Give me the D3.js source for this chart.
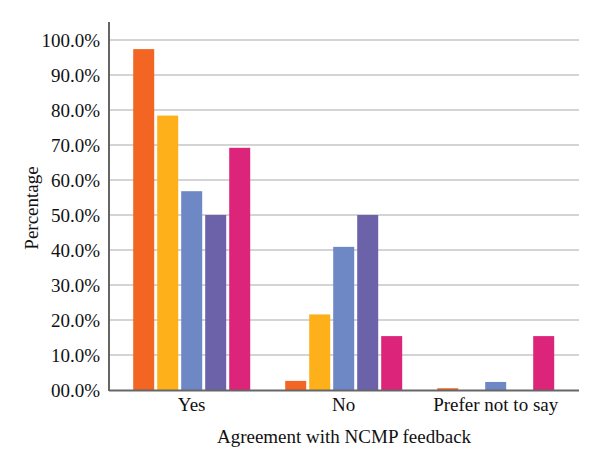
<!DOCTYPE html>
<html><head><meta charset="utf-8">
<script src="https://cdn.jsdelivr.net/npm/d3@7"></script>
<style>body{margin:0;background:#fff}svg{display:block}</style>
</head><body><div id="chart"></div>
<script>
const categories = ["Yes", "No", "Prefer not to say"];
const seriesNames = ["S1", "S2", "S3", "S4", "S5"];
const seriesColors = ["#F26522", "#FDB019", "#6E88C5", "#6C62AA", "#DC247A"];
const valuesS1 = [97.4, 2.6, 0.5];
const valuesS2 = [78.4, 21.6, 0];
const valuesS3 = [56.8, 40.9, 2.3];
const valuesS4 = [50.0, 50.0, 0];
const valuesS5 = [69.2, 15.4, 15.4];
const yTicks = [0, 10, 20, 30, 40, 50, 60, 70, 80, 90, 100];
const yTickLabels = ["00.0%", "10.0%", "20.0%", "30.0%", "40.0%", "50.0%", "60.0%", "70.0%", "80.0%", "90.0%", "100.0%"];
const xTitle = "Agreement with NCMP feedback";
const yTitle = "Percentage";

(function () {
const series = [valuesS1, valuesS2, valuesS3, valuesS4, valuesS5];
const W = 600, H = 465;
const mLeft = 109, mRight = 579, mTop = 22, mBottom = 390;
const font = "'Liberation Serif', 'DejaVu Serif', serif";
const fs = 19;

const svg = d3.select("#chart").append("svg").attr("width", W).attr("height", H);

const y = d3.scaleLinear().domain([0, 100]).range([390, 40]);
const x0 = d3.scaleBand().domain(categories).range([115.7, 571.7]).padding(0);
const x1 = d3.scaleBand().domain(seriesNames).range([0, 117]).paddingInner(0.125).paddingOuter(0);
const groupOffset = (x0.bandwidth() - 117) / 2;

svg.append("g").selectAll("line").data(yTicks.filter(t => t > 0)).join("line")
  .attr("x1", mLeft).attr("x2", mRight)
  .attr("y1", d => y(d)).attr("y2", d => y(d))
  .attr("stroke", "#c6c6c6").attr("stroke-width", 1.5);

const groups = svg.append("g").selectAll("g").data(categories).join("g")
  .attr("transform", d => `translate(${x0(d) + groupOffset},0)`);
groups.selectAll("rect").data((c, ci) => seriesNames.map((s, si) => ({s, si, v: series[si][ci]})))
  .join("rect")
  .attr("x", d => x1(d.s))
  .attr("width", x1.bandwidth())
  .attr("y", d => y(d.v))
  .attr("height", d => y(0) - y(d.v))
  .attr("fill", d => seriesColors[d.si]);

const yAxis = d3.axisLeft(y).tickValues(yTicks).tickFormat((d, i) => yTickLabels[i]).tickSize(0).tickPadding(9);
const gy = svg.append("g").attr("transform", `translate(${mLeft},0)`).call(yAxis);
gy.select(".domain").remove();
gy.selectAll("text").attr("font-family", font).attr("font-size", fs).attr("fill", "#111");

const xAxis = d3.axisBottom(x0).tickSize(0).tickPadding(8);
const gx = svg.append("g").attr("transform", `translate(0,${mBottom})`).call(xAxis);
gx.select(".domain").remove();
gx.selectAll("text").attr("font-family", font).attr("font-size", fs).attr("fill", "#111");

svg.append("line").attr("x1", mLeft).attr("x2", mLeft).attr("y1", mTop).attr("y2", mBottom + 1)
  .attr("stroke", "#666").attr("stroke-width", 2);
svg.append("line").attr("x1", mLeft).attr("x2", mRight).attr("y1", mBottom + 0.5).attr("y2", mBottom + 0.5)
  .attr("stroke", "#666").attr("stroke-width", 2);

svg.append("text").attr("x", 344).attr("y", 443)
  .attr("text-anchor", "middle").attr("font-family", font).attr("font-size", fs).attr("fill", "#111")
  .text(xTitle);
svg.append("text").attr("transform", `translate(38,208) rotate(-90)`)
  .attr("text-anchor", "middle").attr("font-family", font).attr("font-size", fs).attr("fill", "#111")
  .text(yTitle);
})();
</script></body></html>
